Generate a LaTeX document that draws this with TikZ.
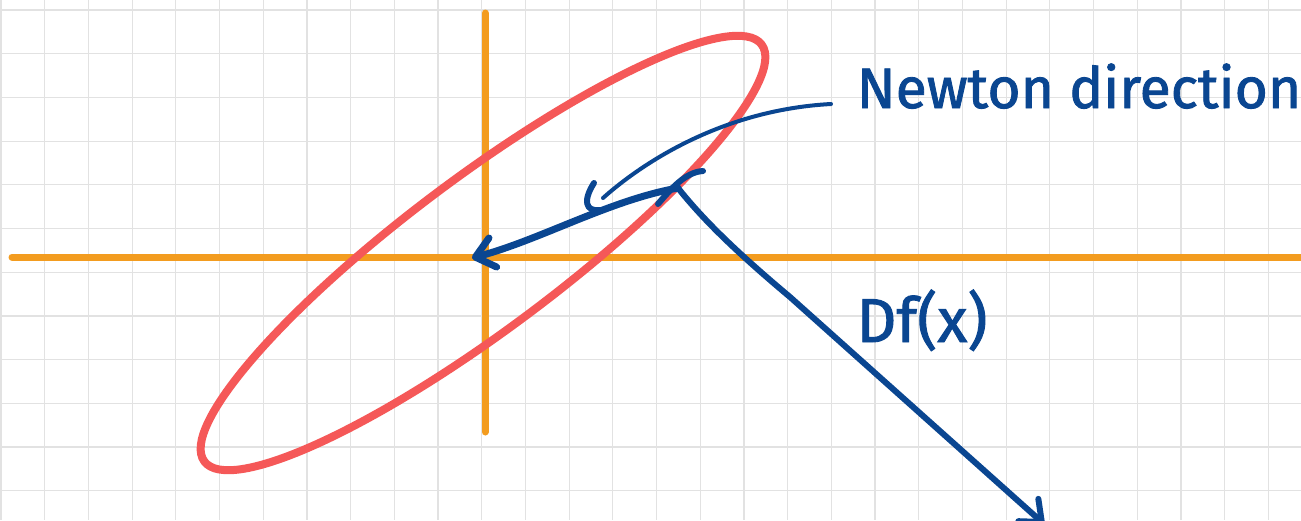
\documentclass[tikz,border=0pt]{standalone}
\usepackage{fontspec}
\usepackage{amsmath,amssymb}
\usepackage{tikz}
\usetikzlibrary{positioning}
\usetikzlibrary{shapes.geometric,calc,arrows.meta}
\newfontfamily\handfont[FakeBold=1.5]{Fira Sans}
\definecolor{gridgray}{RGB}{226,226,226}
\definecolor{axisorange}{RGB}{243,156,31}
\definecolor{levelred}{RGB}{245,88,88}
\definecolor{penblue}{RGB}{10,70,145}
\tikzset{
	x=1pt, y=-1pt,
	gridline/.style = {draw=gridgray, line width=1.2pt},
	axis/.style = {draw=axisorange, line width=7pt, line cap=round},
	levelset/.style = {ellipse, draw=levelred, line width=8pt, inner sep=0pt,
		minimum width=696pt, minimum height=152pt},
	ink/.style = {draw=penblue, line width=#1, line cap=round, line join=round},
	ink/.default = 6pt,
	barb/.style = {-{Straight Barb[length=18pt, width=30pt, round]}},
	inklabel/.style = {text=penblue, inner sep=0pt},
}

\begin{document}
\begin{tikzpicture}
	\path[use as bounding box, clip] (0,0) rectangle (1301,520);
	\fill[white] (0,0) rectangle (1301,520);
	% squared paper
	\foreach \k in {0,...,29} \draw[gridline] (1+43.7*\k,0) -- (1+43.7*\k,520);
	\foreach \k in {0,...,11} \draw[gridline] (0,10+43.7*\k) -- (1301,10+43.7*\k);
	% axes
	\coordinate (xl) at (12,257);
	\coordinate (xr) at (1301,257);
	\coordinate (yt) at (485,13);
	\coordinate (yb) at (485,432);
	\draw[axis] (xl) -- (xr);
	\draw[axis] (yt) -- (yb);
	% level set
	\node (bowl) [levelset, rotate=36.8] at (483,253) {};
	% labels
	\node (newton) [inklabel, font=\handfont\fontsize{57}{57}\selectfont, anchor=base] at (1079,108) {Newton direction};
	\node (grad) [inklabel, font=\handfont\fontsize{62}{62}\selectfont, anchor=base] at (922,342) {Df(x)};
	\coordinate (ptr) at (831,104);
	\coordinate (hook) at (603,198);
	\coordinate (xk) at (678,188);
	\coordinate (o) at (472,258);
	\coordinate (gtip) at (1044,524);
	% pointer from the label
	\draw[ink=4pt] (ptr) .. controls (720,110) and (640,165) .. (hook);
	\draw[ink] (594,183) .. controls (583,200) and (585,212) .. (600,210);
	% mark at x
	\draw[ink] (703,171) .. controls (685,172) and (670,190) .. (658,204);
	% newton step
	\draw[ink=7pt, barb] (xk) .. controls (610,200) and (540,240) .. (o);
	% gradient
	\draw[ink=6pt, barb] (xk) .. controls (705,222) and (740,255) .. (790,297) -- (gtip);
\end{tikzpicture}
\end{document}
